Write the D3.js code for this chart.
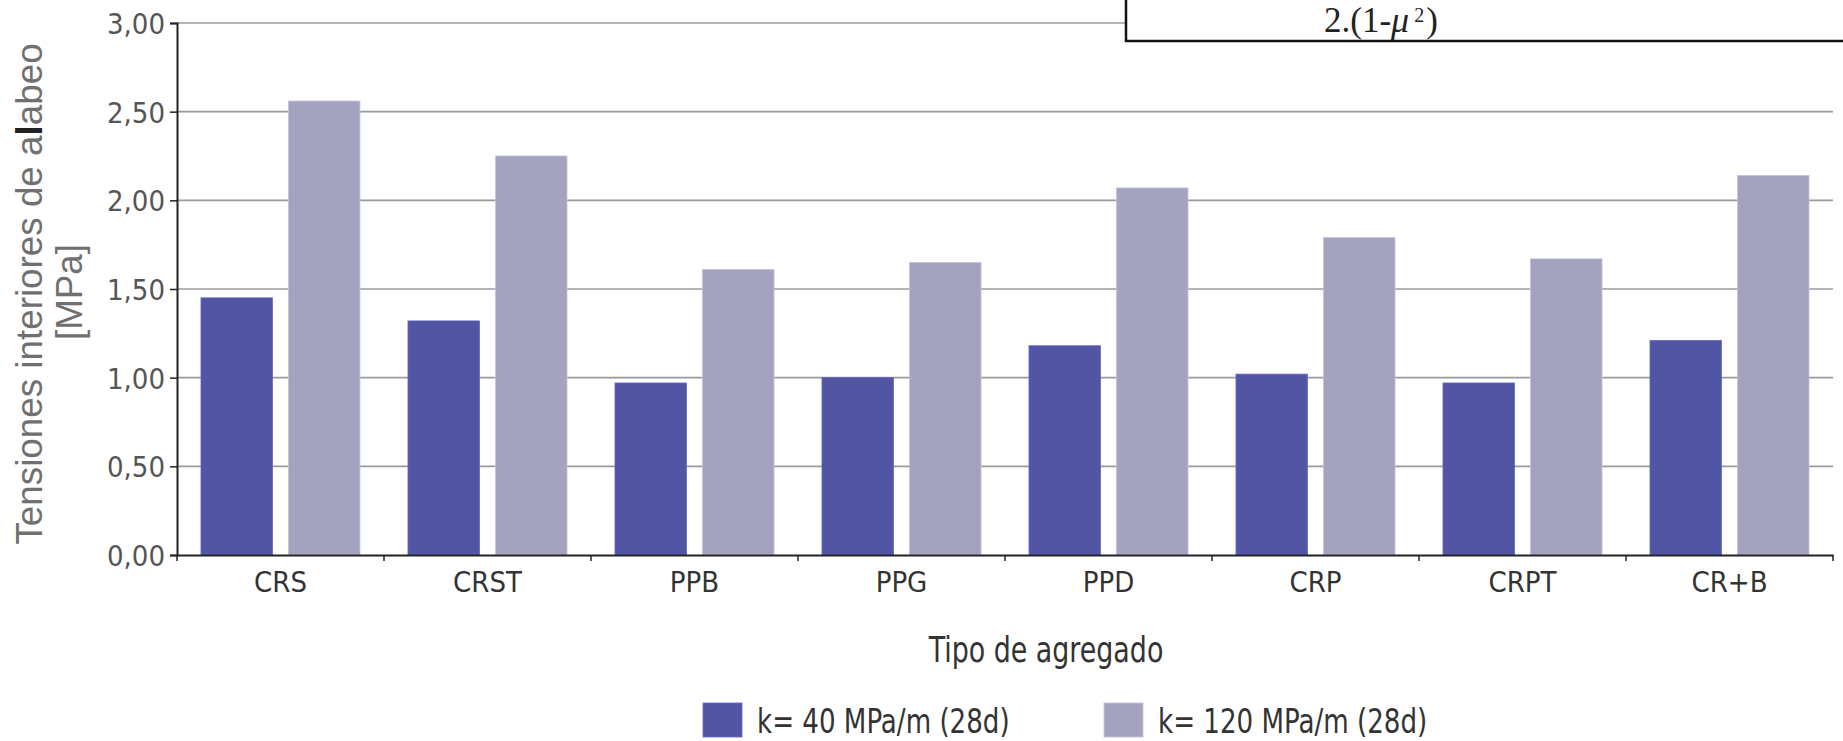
<!DOCTYPE html>
<html>
<head>
<meta charset="utf-8">
<script src="https://cdn.jsdelivr.net/npm/d3@7"></script>
<style>
  body { margin: 0; background: #fff; }
  svg { display: block; }
</style>
</head>
<body>
<div id="chart"></div>
<script>
// DATA
const categories = ["CRS", "CRST", "PPB", "PPG", "PPD", "CRP", "CRPT", "CR+B"];
const seriesNames = ["k= 40 MPa/m (28d)", "k= 120 MPa/m (28d)"];
const k40 = [1.45, 1.32, 0.97, 1.00, 1.18, 1.02, 0.97, 1.21];
const k120 = [2.56, 2.25, 1.61, 1.65, 2.07, 1.79, 1.67, 2.14];
const yTicks = [0, 0.5, 1, 1.5, 2, 2.5, 3];

const colors = ["#5155a3", "#a3a3bf"];
const narrow = '"DejaVu Sans Condensed", "Liberation Sans Narrow", sans-serif';

// Chart variables
const W = 1843, H = 741;
const plotLeft = 177, plotRight = 1833;
const plotTop = 23, plotBottom = 555;

const esLocale = d3.formatLocale({decimal: ",", thousands: ".", grouping: [3], currency: ["", " €"]});
const fmt = esLocale.format(".2f");

// Scales
const x0 = d3.scaleBand().domain(categories).range([plotLeft, plotRight]).padding(0);
const x1 = d3.scaleBand().domain(seriesNames).range([0, x0.bandwidth()])
             .paddingInner(0.183).paddingOuter(0.274);
const y = d3.scaleLinear().domain([0, 3]).range([plotBottom, plotTop]);

const rows = categories.map((c, i) => ({cat: c, values: [k40[i], k120[i]]}));

// Main svg
const svg = d3.select("#chart").append("svg")
    .attr("width", W)
    .attr("height", H)
    .style("background", "#fff");

// gridlines
svg.append("g")
   .selectAll("line")
   .data(yTicks.filter(d => d > 0))
   .enter().append("line")
   .attr("x1", plotLeft).attr("x2", plotRight)
   .attr("y1", d => y(d)).attr("y2", d => y(d))
   .attr("stroke", "#9a9a9a")
   .attr("stroke-width", 1.6);

// bars
const groups = svg.append("g")
   .selectAll("g")
   .data(rows)
   .enter().append("g")
   .attr("transform", d => "translate(" + x0(d.cat) + ",0)");

groups.selectAll("rect")
   .data(d => d.values.map((v, j) => ({key: seriesNames[j], v: v, j: j})))
   .enter().append("rect")
   .attr("x", d => x1(d.key))
   .attr("width", x1.bandwidth())
   .attr("y", d => y(d.v))
   .attr("height", d => y(0) - y(d.v))
   .attr("fill", d => colors[d.j])
   .attr("stroke", d => d3.color(colors[d.j]).brighter(0.5))
   .attr("stroke-width", 0.8);

// y axis
const yAxis = d3.axisLeft(y).tickValues(yTicks).tickSize(7).tickFormat(fmt);
const gy = svg.append("g")
   .attr("transform", "translate(" + plotLeft + ",0)")
   .call(yAxis);
gy.select(".domain").attr("stroke", "#222").attr("stroke-width", 2);
gy.selectAll(".tick line").attr("stroke", "#222").attr("stroke-width", 1.5);
gy.selectAll(".tick text")
  .attr("x", -12)
  .attr("dy", "0.36em")
  .attr("fill", "#555")
  .style("font-family", narrow)
  .style("font-size", "29px");

// x axis
const xAxis = d3.axisBottom(x0).tickSize(0).tickPadding(16);
const gx = svg.append("g")
   .attr("transform", "translate(0," + y(0) + ")")
   .call(xAxis);
gx.select(".domain").attr("stroke", "#222").attr("stroke-width", 2);
gx.selectAll(".tick text")
  .attr("dy", "0.71em")
  .attr("fill", "#333")
  .style("font-family", narrow)
  .style("font-size", "29px");

// boundary ticks between categories
gx.selectAll("line.sep")
  .data(categories.map(c => x0(c)).concat([x0.range()[1]]))
  .enter().append("line")
  .attr("class", "sep")
  .attr("x1", d => d).attr("x2", d => d)
  .attr("y1", 0).attr("y2", 6)
  .attr("stroke", "#222")
  .attr("stroke-width", 1.5);

// y axis title
const yTitle = svg.append("g").attr("fill", "#707070")
   .style("font-family", '"Liberation Sans", Arial, sans-serif')
   .style("font-size", "36.8px");
const t1 = yTitle.append("text")
   .attr("transform", "translate(42,294) rotate(-90)")
   .attr("text-anchor", "middle");
t1.append("tspan").text("Tensiones interiores de a");
t1.append("tspan").attr("font-weight", "bold").attr("fill", "#222").text("l");
t1.append("tspan").text("abeo");
yTitle.append("text")
   .attr("transform", "translate(82,292) rotate(-90)")
   .attr("text-anchor", "middle")
   .text("[MPa]");

// x axis title (squeezed horizontally like the original condensed face)
svg.append("text")
   .attr("transform", "translate(" + ((plotLeft + plotRight) / 2 + 41) + ",662) scale(0.83,1)")
   .attr("text-anchor", "middle")
   .attr("fill", "#333")
   .style("font-family", narrow)
   .style("font-size", "36px")
   .text("Tipo de agregado");

// legend
const legend = svg.append("g").attr("transform", "translate(703,703)");
const legendItems = legend.selectAll("g")
   .data(seriesNames)
   .enter().append("g")
   .attr("transform", (d, i) => "translate(" + i * 401 + ",0)");
legendItems.append("rect")
   .attr("width", 39).attr("height", 34)
   .attr("fill", (d, i) => colors[i])
   .attr("stroke", (d, i) => d3.color(colors[i]).brighter(0.5))
   .attr("stroke-width", 0.8);
legendItems.append("text")
   .attr("transform", "translate(54,30) scale(0.88,1)")
   .attr("fill", "#333")
   .style("font-family", narrow)
   .style("font-size", "33px")
   .text(d => d);

// formula box (top right, partly cut off)
const box = svg.append("g");
box.append("rect")
   .attr("x", 1126).attr("y", -20)
   .attr("width", 760).attr("height", 61)
   .attr("fill", "#fff")
   .attr("stroke", "#111")
   .attr("stroke-width", 2.5);
const ft = box.append("text")
   .attr("x", 1324).attr("y", 32)
   .attr("fill", "#222")
   .style("font-family", '"Liberation Serif", "Times New Roman", serif')
   .style("font-size", "35px");
ft.append("tspan").text("2.(1-");
ft.append("tspan").attr("font-style", "italic").attr("font-size", "36px").text("\u03bc");
ft.append("tspan").attr("font-size", "20px").attr("dy", "-10").attr("dx", "5").text("2");
ft.append("tspan").attr("dy", "10").attr("dx", "2").text(")");
</script>
</body>
</html>
